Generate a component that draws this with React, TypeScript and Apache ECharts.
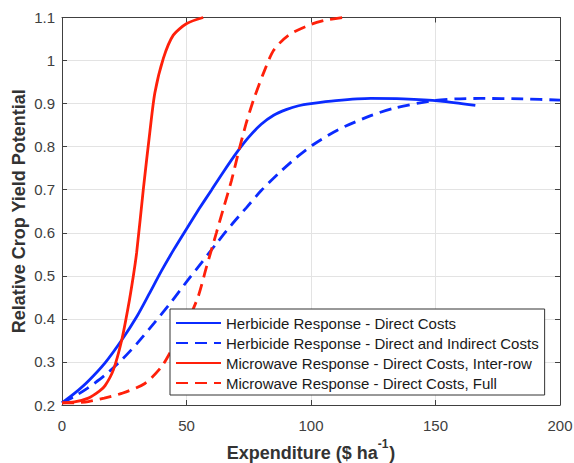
import React, { useEffect, useRef } from "react";
import * as echarts from "echarts";

// Herbicide Response - Direct Costs
const herbDirectX = [0, 5, 10.6, 17.3, 24, 30, 35, 40, 45, 50, 55, 60, 65, 70, 75, 80, 85, 90, 95, 100, 110, 124, 137, 152, 166];
const herbDirectY = [0.205, 0.227, 0.256, 0.298, 0.351, 0.405, 0.458, 0.512, 0.562, 0.609, 0.655, 0.699, 0.743, 0.785, 0.822, 0.852, 0.873, 0.886, 0.895, 0.9, 0.907, 0.912, 0.911, 0.906, 0.896];

// Herbicide Response - Direct and Indirect Costs
const herbIndirectX = [0, 5, 10, 17, 24, 30, 37, 44, 50, 56, 62, 68, 74, 80, 87, 94, 101, 108, 114, 124, 133, 148, 158, 168, 185, 200];
const herbIndirectY = [0.205, 0.22, 0.238, 0.268, 0.305, 0.342, 0.39, 0.44, 0.486, 0.53, 0.575, 0.618, 0.658, 0.698, 0.738, 0.774, 0.805, 0.83, 0.848, 0.872, 0.889, 0.906, 0.911, 0.912, 0.911, 0.908];

// Microwave Response - Direct Costs, Inter-row
const microInterX = [0, 5, 10.6, 15, 17.3, 20.6, 24, 26.6, 28.6, 30, 32.7, 35.3, 37.3, 40.7, 44.7, 50.1, 56.7];
const microInterY = [0.205, 0.207, 0.216, 0.232, 0.245, 0.281, 0.351, 0.428, 0.498, 0.555, 0.703, 0.835, 0.925, 1.005, 1.059, 1.086, 1.1];

// Microwave Response - Direct Costs, Full
const microFullX = [0, 5, 10.6, 17, 24, 33.3, 40, 44.7, 50.1, 54.7, 58, 62, 65, 68, 71, 74, 77, 81, 85, 91, 100, 106, 113];
const microFullY = [0.205, 0.205, 0.208, 0.216, 0.227, 0.25, 0.289, 0.335, 0.39, 0.452, 0.52, 0.6, 0.66, 0.72, 0.79, 0.855, 0.91, 0.972, 1.024, 1.059, 1.084, 1.094, 1.1];

const seriesNames = [
  "Herbicide Response - Direct Costs",
  "Herbicide Response - Direct and Indirect Costs",
  "Microwave Response - Direct Costs, Inter-row",
  "Microwave Response - Direct Costs, Full",
];

const xTicks = { min: 0, max: 200, interval: 50 };
const yTicks = { min: 0.2, max: 1.1, interval: 0.1 };

const BLUE = "#0b2bff";
const RED = "#ff200a";
const AX = "#404040";
const FONT = "'Liberation Sans', Arial, sans-serif";

const pair = (xs: number[], ys: number[]) => xs.map((x, i) => [x, ys[i]]);

export default function App() {
  const ref = useRef<HTMLDivElement>(null);
  useEffect(() => {
    const chart = echarts.init(ref.current!, null, { renderer: "svg" });
    const frameAxis = {
      axisLine: { show: true, onZero: false, lineStyle: { color: AX, width: 1 } },
      axisTick: { show: true, inside: true, length: 5, lineStyle: { color: AX } },
    };
    const mk = (i: number, xs: number[], ys: number[], color: string, dashed: boolean) => ({
      name: seriesNames[i],
      type: "line",
      data: pair(xs, ys),
      symbol: "none",
      showSymbol: false,
      smooth: 0.25,
      clip: true,
      lineStyle: { color, width: 2.8, type: dashed ? [12, 7] : "solid" },
      itemStyle: { color },
    });
    chart.setOption({
      animation: false,
      backgroundColor: "#fff",
      textStyle: { fontFamily: FONT },
      grid: { left: 62, top: 17.5, right: 14, bottom: 58, containLabel: false, outerBoundsMode: "none" },
      xAxis: [
        {
          type: "value",
          ...xTicks,
          position: "bottom",
          ...frameAxis,
          axisLabel: { color: "#404040", fontSize: 15, margin: 13, fontFamily: FONT },
          splitLine: { show: true, lineStyle: { color: "#e3e3e3", width: 1 } },
          name: "{a|Expenditure ($ ha}{s|-1}{a|)}",
          nameLocation: "middle",
          nameGap: 33,
          nameMoveOverlap: false,
          nameTextStyle: {
            rich: {
              a: { fontSize: 18, fontWeight: "bold", color: "#333", fontFamily: FONT, lineHeight: 24, verticalAlign: "bottom" },
              s: { fontSize: 12, fontWeight: "bold", color: "#333", fontFamily: FONT, lineHeight: 24, verticalAlign: "top", padding: [0, 1, 0, 0] },
            },
          },
        },
        {
          type: "value",
          ...xTicks,
          position: "top",
          ...frameAxis,
          axisLabel: { show: false },
          splitLine: { show: false },
        },
      ],
      yAxis: [
        {
          type: "value",
          ...yTicks,
          position: "left",
          ...frameAxis,
          axisLabel: {
            color: "#404040",
            fontSize: 15,
            margin: 7,
            fontFamily: FONT,
            formatter: (v: number) => String(Math.round(v * 10) / 10),
          },
          splitLine: { show: true, lineStyle: { color: "#e3e3e3", width: 1 } },
          name: "Relative Crop Yield Potential",
          nameLocation: "middle",
          nameRotate: 90,
          nameGap: 34,
          nameMoveOverlap: false,
          nameTextStyle: { fontSize: 18, fontWeight: "bold", color: "#333", fontFamily: FONT },
        },
        {
          type: "value",
          ...yTicks,
          position: "right",
          ...frameAxis,
          axisLabel: { show: false },
          splitLine: { show: false },
        },
      ],
      legend: {
        orient: "vertical",
        left: 170,
        top: 309,
        itemWidth: 45,
        itemHeight: 14,
        itemGap: 4,
        padding: [6, 6, 4, 5],
        borderColor: "#333",
        borderWidth: 1,
        borderRadius: 0,
        backgroundColor: "#fff",
        itemStyle: { opacity: 0 },
        textStyle: { fontSize: 15, lineHeight: 16, color: "#1a1a1a", fontFamily: FONT },
        data: seriesNames,
      },
      series: [
        mk(0, herbDirectX, herbDirectY, BLUE, false),
        mk(1, herbIndirectX, herbIndirectY, BLUE, true),
        mk(2, microInterX, microInterY, RED, false),
        mk(3, microFullX, microFullY, RED, true),
      ],
    });
    return () => chart.dispose();
  }, []);
  return (
    <div
      ref={ref}
      style={{ position: "fixed", left: 0, top: 0, width: 574, height: 463, background: "#fff" }}
    />
  );
}
